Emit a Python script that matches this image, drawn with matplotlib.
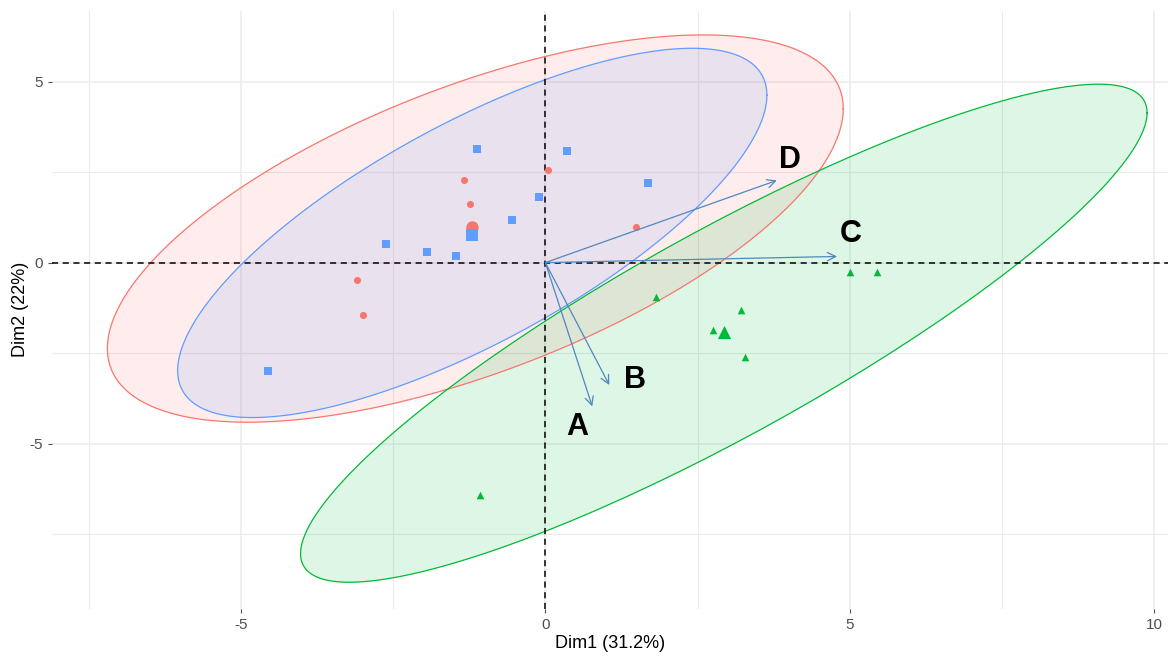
import numpy as np
import matplotlib.pyplot as plt

plt.rcParams['font.family'] = ['Liberation Sans', 'DejaVu Sans']
plt.rcParams['axes.unicode_minus'] = False

# individuals (Dim1, Dim2) by group
red_x = [0.05, -1.33, -1.23, 1.49, -3.10, -2.99]
red_y = [2.57, 2.27, 1.63, 0.99, -0.47, -1.44]
blue_x = [-1.13, 0.36, -0.10, -0.54, 1.69, -2.61, -1.94, -1.46, -4.56]
blue_y = [3.15, 3.07, 1.82, 1.19, 2.21, 0.52, 0.28, 0.17, -2.98]
green_x = [1.82, 5.01, 5.45, 3.22, 2.76, 3.27, -1.07]
green_y = [-0.94, -0.25, -0.25, -1.30, -1.85, -2.62, -6.41]

# group means
mean_red = (-1.20, 0.97)
mean_blue = (-1.20, 0.77)
mean_green = (2.94, -1.93)

# ellipses: centre and shape matrix (xx, xy, yy)
ell_red = ((-1.15, 0.94), (36.5, 20.0, 28.6))
ell_blue = ((-1.2, 0.82), (23.4, 18.4, 26.0))
ell_green = ((2.93, -1.95), (48.3, 42.3, 47.3))

# variable arrows
var_names = ['A', 'B', 'C', 'D']
var_x = [0.77, 1.05, 4.79, 3.80]
var_y = [-3.97, -3.38, 0.17, 2.27]
lab_x = [0.53, 1.48, 5.02, 4.01]
lab_y = [-4.53, -3.25, 0.78, 2.83]

RED, BLUE, GREEN = '#F8766D', '#619CFF', '#00BA38'


def ellipse_xy(centre, shape, n=200):
    sxx, sxy, syy = shape
    L = np.linalg.cholesky(np.array([[sxx, sxy], [sxy, syy]]))
    t = np.linspace(0, 2 * np.pi, n)
    pts = L @ np.vstack([np.cos(t), np.sin(t)])
    return pts[0] + centre[0], pts[1] + centre[1]


fig = plt.figure(figsize=(11.69, 6.61), dpi=100)
ax = fig.add_axes([0.0445, 0.079, 0.955, 0.905])

# grid like theme_minimal
for v in [-7.5, -5, -2.5, 0, 2.5, 5, 7.5, 10]:
    ax.axvline(v, color='#EBEBEB', lw=0.8 if v % 5 else 1.1, zorder=0)
for v in [-7.5, -5, -2.5, 0, 2.5, 5]:
    ax.axhline(v, color='#EBEBEB', lw=0.8 if v % 5 else 1.1, zorder=0)

for (c, s), col in [(ell_red, RED), (ell_blue, BLUE), (ell_green, GREEN)]:
    ex, ey = ellipse_xy(c, s)
    ax.fill(ex, ey, color=col, alpha=0.13, lw=0, zorder=1)
    ax.plot(ex, ey, color=col, lw=0.9, zorder=2)

ax.axhline(0, color='black', ls=(0, (4, 3)), lw=1.1, zorder=3)
ax.axvline(0, color='black', ls=(0, (4, 3)), lw=1.1, zorder=3)

ax.scatter(red_x, red_y, marker='o', s=26, color=RED, lw=0, zorder=4)
ax.scatter(blue_x, blue_y, marker='s', s=26, color=BLUE, lw=0, zorder=4)
ax.scatter(green_x, green_y, marker='^', s=30, color=GREEN, lw=0, zorder=4)
ax.scatter(*mean_red, marker='o', s=80, color=RED, lw=0, zorder=5)
ax.scatter(*mean_blue, marker='s', s=75, color=BLUE, lw=0, zorder=5)
ax.scatter(*mean_green, marker='^', s=90, color=GREEN, lw=0, zorder=5)

for name, x, y, tx, ty in zip(var_names, var_x, var_y, lab_x, lab_y):
    ax.annotate('', xy=(x, y), xytext=(0, 0),
                arrowprops=dict(arrowstyle='->', color='#4F88C0', lw=0.9,
                                mutation_scale=15, shrinkA=0, shrinkB=0),
                zorder=6)
    ax.text(tx, ty, name, fontsize=22, fontweight='bold', ha='center',
            va='center', color='black', zorder=7)

ax.set_xlim(-8.1, 10.23)
ax.set_ylim(-9.56, 6.96)
ax.set_xticks([-5, 0, 5, 10])
ax.set_yticks([-5, 0, 5])
ax.tick_params(colors='#4D4D4D', labelsize=11, length=3, width=0.8)
for sp in ax.spines.values():
    sp.set_visible(False)
ax.set_xlabel('Dim1 (31.2%)', fontsize=13, labelpad=2)
ax.set_ylabel('Dim2 (22%)', fontsize=13, labelpad=0)

fig.savefig('out.png', dpi=100)
